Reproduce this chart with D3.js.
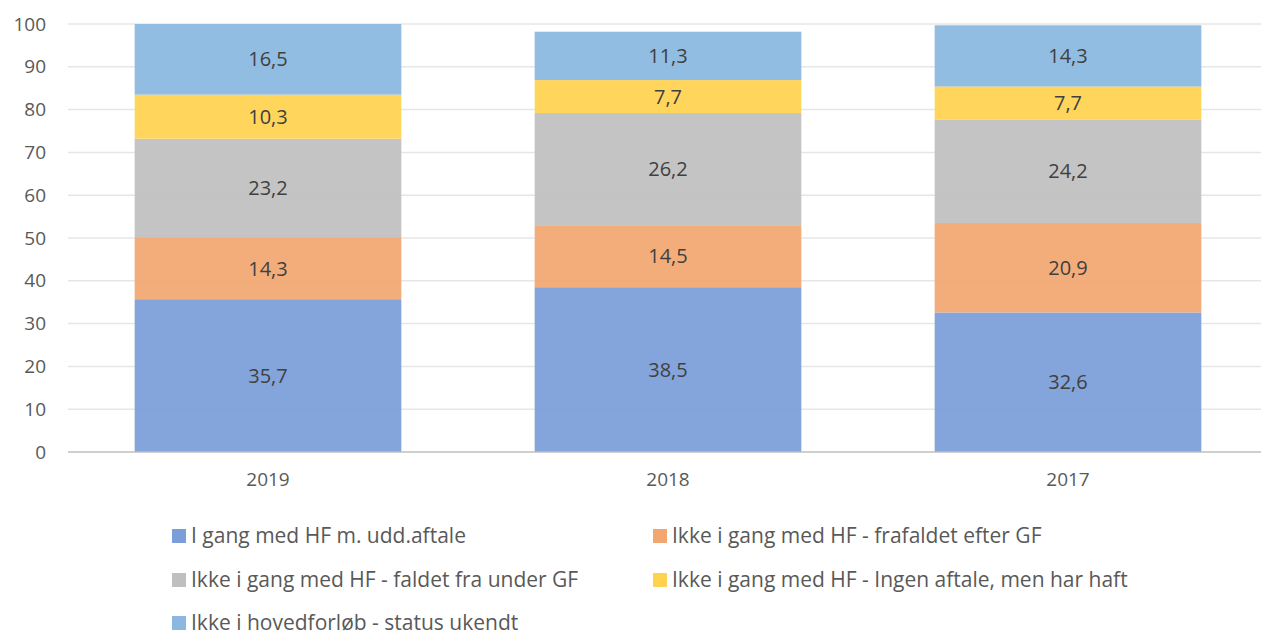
<!DOCTYPE html>
<html>
<head>
<meta charset="utf-8">
<title>HF status</title>
<script src="https://d3js.org/d3.v7.min.js"></script>
<style>
  body { margin: 0; background: #fff; }
  text { font-family: "Open Sans", "Liberation Sans", sans-serif; }
</style>
</head>
<body>
<div id="chart"></div>
<script>
// data
var years = ["2019", "2018", "2017"];
var seriesNames = [
  "I gang med HF m. udd.aftale",
  "Ikke i gang med HF - frafaldet efter GF",
  "Ikke i gang med HF - faldet fra under GF",
  "Ikke i gang med HF - Ingen aftale, men har haft",
  "Ikke i hovedforløb - status ukendt"
];
var udd      = [35.7, 38.5, 32.6];
var efterGF  = [14.3, 14.5, 20.9];
var underGF  = [23.2, 26.2, 24.2];
var ingen    = [10.3, 7.7, 7.7];
var ukendt   = [16.5, 11.3, 14.3];
var yTicks = [0, 10, 20, 30, 40, 50, 60, 70, 80, 90, 100];
var colors = ["#7b9ed8", "#f2a771", "#bfbfbf", "#ffd34f", "#8ab8e1"];

var allSeries = [udd, efterGF, underGF, ingen, ukendt];

var width = 1261, height = 635;
var svg = d3.select("#chart").append("svg")
    .attr("width", width)
    .attr("height", height);

var x = d3.scaleBand()
    .domain(years)
    .range([68, 1268])
    .paddingInner(1/3)
    .paddingOuter(1/6);

var y = d3.scaleLinear()
    .domain([0, 100])
    .range([452, 24]);

// gridlines
svg.append("g").selectAll("line")
    .data(yTicks.slice(1))
    .enter().append("line")
    .attr("x1", 68).attr("x2", width)
    .attr("y1", function(d) { return y(d); })
    .attr("y2", function(d) { return y(d); })
    .attr("stroke", "#e6e6e6")
    .attr("stroke-width", 1.5);

// stack the data
var rows = years.map(function(yr, i) {
    var r = { year: yr };
    allSeries.forEach(function(s, k) { r["s" + k] = s[i]; });
    return r;
});
var stack = d3.stack().keys(allSeries.map(function(s, k) { return "s" + k; }));
var stacked = stack(rows);

var layers = svg.append("g").selectAll("g")
    .data(stacked)
    .enter().append("g")
    .attr("fill", function(d, k) { return colors[k]; });

layers.selectAll("rect")
    .data(function(d) { return d; })
    .enter().append("rect")
    .attr("x", function(d) { return x(d.data.year); })
    .attr("width", x.bandwidth())
    .attr("y", function(d) { return y(d[1]); })
    .attr("height", function(d) { return y(d[0]) - y(d[1]); })
    .attr("fill-opacity", 0.93);

// value labels
layers.selectAll("text")
    .data(function(d) { return d; })
    .enter().append("text")
    .attr("x", function(d) { return x(d.data.year) + x.bandwidth() / 2; })
    .attr("y", function(d) { return (y(d[0]) + y(d[1])) / 2; })
    .attr("dy", "0.35em")
    .attr("text-anchor", "middle")
    .attr("fill", "#404040")
    .style("font-size", "20px")
    .text(function(d) { return d3.format(".1f")(d[1] - d[0]).replace(".", ","); });

// baseline
svg.append("line")
    .attr("x1", 68).attr("x2", width)
    .attr("y1", y(0)).attr("y2", y(0))
    .attr("stroke", "#bfbfbf")
    .attr("stroke-width", 1.5);

// y axis labels
var yAxis = d3.axisLeft(y).tickValues(yTicks).tickSize(0).tickPadding(0);
var gy = svg.append("g")
    .attr("transform", "translate(46,0)")
    .call(yAxis);
gy.select(".domain").remove();
gy.selectAll("text")
    .attr("fill", "#595959")
    .style("font-size", "19px")
    .style("font-family", "'Open Sans', 'Liberation Sans', sans-serif");

// x axis labels
var xAxis = d3.axisBottom(x).tickSize(0).tickPadding(21);
var gx = svg.append("g")
    .attr("transform", "translate(0," + y(0) + ")")
    .call(xAxis);
gx.select(".domain").remove();
gx.selectAll("text")
    .attr("fill", "#595959")
    .style("font-size", "19px")
    .style("font-family", "'Open Sans', 'Liberation Sans', sans-serif");

// legend
var legendPos = [[172, 536], [653, 536], [172, 580], [653, 580], [172, 623]];
var legend = svg.append("g").selectAll("g")
    .data(seriesNames)
    .enter().append("g")
    .attr("transform", function(d, i) { return "translate(" + legendPos[i][0] + "," + legendPos[i][1] + ")"; });
legend.append("rect")
    .attr("x", 0).attr("y", -7)
    .attr("width", 14).attr("height", 14)
    .attr("fill", function(d, i) { return colors[i]; });
legend.append("text")
    .attr("x", 19)
    .attr("dy", "0.35em")
    .attr("fill", "#595959")
    .style("font-size", "21px")
    .text(function(d) { return d; });
</script>
</body>
</html>
